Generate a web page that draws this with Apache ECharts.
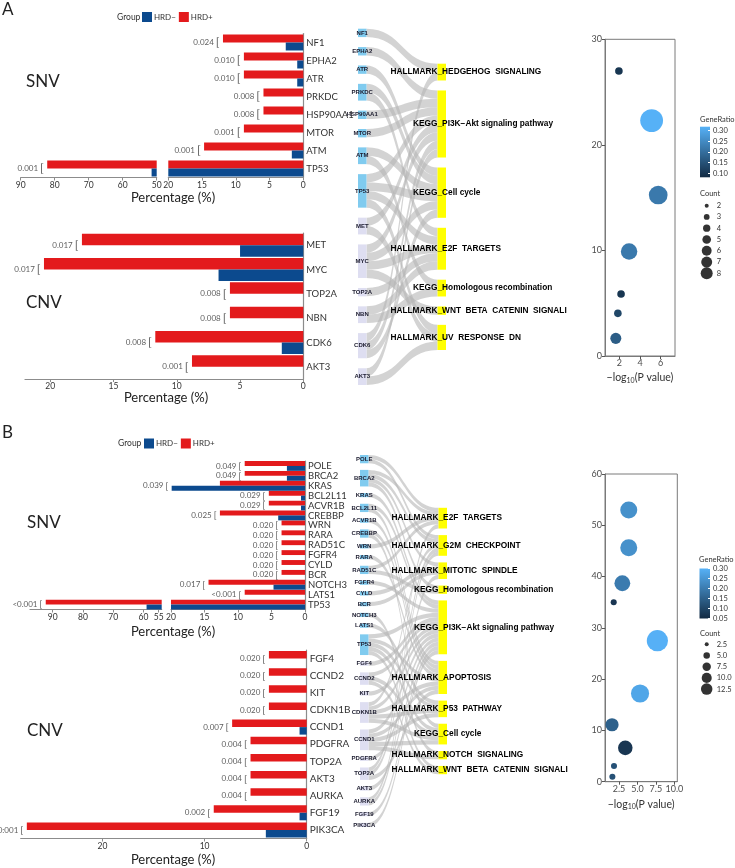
<!DOCTYPE html>
<html><head><meta charset="utf-8">
<script src="https://cdn.jsdelivr.net/npm/echarts@6/dist/echarts.min.js"></script>
<style>html,body{margin:0;padding:0;background:#fff}#c{width:735px;height:868px}</style>
</head><body><div id="c"></div>
<script>
// ================= DATA =================
// Panel A - SNV
const snvGenesA = ['NF1','EPHA2','ATR','PRKDC','HSP90AA1','MTOR','ATM','TP53'];
const snvPosA   = [11.9, 8.8, 8.8, 5.9, 5.9, 8.8, 14.7, 82.2];   // HRD+
const snvNegA   = [2.6, 0.9, 0.9, 0, 0, 0, 1.7, 51.5];           // HRD-
const snvPA     = ['0.024','0.010','0.010','0.008','0.008','0.001','0.001','0.001'];
// Panel A - CNV
const cnvGenesA = ['MET','MYC','TOP2A','NBN','CDK6','AKT3'];
const cnvPosA   = [17.5, 20.5, 5.8, 5.8, 11.7, 8.8];
const cnvNegA   = [5.0, 6.7, 0, 0, 1.7, 0];
const cnvPA     = ['0.017','0.017','0.008','0.008','0.008','0.001'];
// Panel B - SNV
const snvGenesB = ['POLE','BRCA2','KRAS','BCL2L11','ACVR1B','CREBBP','WRN','RARA','RAD51C','FGFR4','CYLD','BCR','NOTCH3','LATS1','TP53'];
const snvPosB   = [9.0, 9.0, 12.7, 5.4, 5.4, 12.7, 3.5, 3.5, 3.5, 3.5, 3.5, 3.5, 14.4, 9.0, 92.3];
const snvNegB   = [2.7, 2.7, 19.9, 0.6, 0.6, 4.0, 0, 0, 0, 0, 0, 0, 4.7, 0, 59.0];
const snvPB     = ['0.049','0.049','0.039','0.029','0.029','0.025','0.020','0.020','0.020','0.020','0.020','0.020','0.017','<0.001','<0.001'];
// Panel B - CNV
const cnvGenesB = ['FGF4','CCND2','KIT','CDKN1B','CCND1','PDGFRA','TOP2A','AKT3','AURKA','FGF19','PIK3CA'];
const cnvPosB   = [3.7, 3.7, 3.7, 3.7, 7.3, 5.5, 5.5, 5.5, 5.5, 9.1, 27.4];
const cnvNegB   = [0, 0, 0, 0, 0.7, 0, 0, 0, 0, 0.7, 4.0];
const cnvPB     = ['0.020','0.020','0.020','0.020','0.007','0.004','0.004','0.004','0.004','0.002','<0:001'];

// axis ticks
const ticksSnvLeftA = [50,60,70,80,90];
const ticksSnvRightA = [0,5,10,15,20];
const ticksCnvA = [0,5,10,15,20];
const ticksSnvLeftB = [55,60,70,80,90];
const ticksSnvRightB = [0,5,10,15,20];
const ticksCnvB = [0,10,20];

// Sankey pathways and gene->pathway links [gene, pathwayIndex, value]
const pathsA = ['HALLMARK_HEDGEHOG  SIGNALING','KEGG_PI3K\u2212Akt signaling pathway','KEGG_Cell cycle','HALLMARK_E2F  TARGETS','KEGG_Homologous recombination','HALLMARK_WNT  BETA  CATENIN  SIGNALING','HALLMARK_UV  RESPONSE  DN'];
const linksA = [
 ['NF1',0,1],['EPHA2',1,1],['ATR',2,1],['PRKDC',2,1],['PRKDC',3,1],['HSP90AA1',1,1],['MTOR',1,1],
 ['ATM',2,1],['ATM',4,1],['TP53',1,1],['TP53',2,1],['TP53',3,1],['TP53',6,1],
 ['MET',1,1],['MET',6,1],['MYC',1,1],['MYC',2,1],['MYC',3,1],['MYC',5,1],
 ['TOP2A',3,1],['NBN',3,1],['NBN',4,1],['CDK6',0,1],['CDK6',1,1],['CDK6',2,1],['AKT3',1,1],['AKT3',6,1]];
const pathsB = ['HALLMARK_E2F  TARGETS','HALLMARK_G2M  CHECKPOINT','HALLMARK_MITOTIC  SPINDLE','KEGG_Homologous recombination','KEGG_PI3K\u2212Akt signaling pathway','HALLMARK_APOPTOSIS','HALLMARK_P53  PATHWAY','KEGG_Cell cycle','HALLMARK_NOTCH  SIGNALING','HALLMARK_WNT  BETA  CATENIN  SIGNALING'];
const linksB = [
 ['POLE',0,1],['POLE',1,1],['BRCA2',0,1],['BRCA2',1,1],['BRCA2',2,1],['BRCA2',3,1],['KRAS',4,1],
 ['BCL2L11',4,1],['BCL2L11',5,1],['ACVR1B',5,1],['CREBBP',5,1],['CREBBP',7,1],['WRN',0,1],['RARA',5,1],
 ['RAD51C',0,1],['RAD51C',3,1],['FGFR4',4,1],['CYLD',2,1],['BCR',2,1],['NOTCH3',8,1],['LATS1',6,1],
 ['TP53',4,1],['TP53',5,1],['TP53',6,1],['TP53',7,1],['TP53',9,1],['FGF4',4,1],
 ['CCND2',4,1],['CCND2',7,1],['CCND2',9,1],['KIT',4,1],
 ['CDKN1B',1,1],['CDKN1B',4,1],['CDKN1B',5,1],['CDKN1B',6,1],['CDKN1B',7,1],
 ['CCND1',4,1],['CCND1',5,1],['CCND1',6,1],['CCND1',7,1],['CCND1',8,1],['PDGFRA',4,1],
 ['TOP2A',0,1],['TOP2A',1,1],['TOP2A',5,1],['AKT3',4,1],['AURKA',1,1],['AURKA',2,1],['FGF19',4,1],['PIK3CA',4,1]];

// Bubble plots: x = -log10(P), y = position, GeneRatio, Count
const bubXA = [1.95, 5.13, 5.77, 2.94, 2.16, 1.85, 1.65];
const bubYA = [27.0, 22.3, 15.25, 9.9, 5.87, 4.04, 1.67];
const bubRatioA = [0.10, 0.32, 0.22, 0.22, 0.10, 0.13, 0.17];
const bubCountA = [2, 8, 6, 5, 2, 2, 3];
const bubXB = [3.82, 3.82, 2.95, 1.78, 7.7, 5.35, 1.55, 3.35, 1.82, 1.6];
const bubYB = [53.0, 45.6, 38.7, 35.0, 27.5, 17.2, 11.1, 6.6, 3.06, 0.97];
const bubRatioB = [0.24, 0.24, 0.20, 0.07, 0.30, 0.28, 0.15, 0.07, 0.12, 0.12];
const bubCountB = [9, 9, 8, 2, 13, 10, 6, 7, 2, 2];
const bubXTicksA = [2,4,6];
const bubXTicksB = [2.5,5,7.5,10];
const ratioTicksA = [0.10,0.15,0.20,0.25,0.30];
const ratioTicksB = [0.05,0.10,0.15,0.20,0.25,0.30];
const countLegA = [2,3,4,5,6,7,8];
const countLegB = [2.5,5,7.5,10,12.5];

// ================= STYLE / LAYOUT =================
const RED = '#e31a1c', BLUE = '#0c4a8e';
const DARK = '#132B43', LIGHT = '#56B1F7';
const FONT = 'Lato, "Open Sans", sans-serif';
const SKFONT = '"Liberation Sans", Arial, sans-serif';
const SNV_NODE = '#80cbef', CNV_NODE = '#dedef1', PATH_NODE = '#ffff00';

const grids = [], xAxes = [], yAxes = [], series = [], graphics = [];
function addGrid(g){ grids.push(Object.assign({containLabel:false}, g)); return grids.length - 1; }

function barPanel(cfg){
  cfg.parts.forEach(part => {
    const gi = addGrid(part.box);
    xAxes.push({gridIndex: gi, type:'value', min: part.min, max: part.max, inverse: true,
      axisLine:{show:true, onZero:false, lineStyle:{color:'#8c8c8c', width:1.2}},
      axisTick:{show:true, length:3, lineStyle:{color:'#8c8c8c'}, customValues: part.ticks},
      axisLabel:{customValues: part.ticks, fontSize: 8.5, color:'#333', fontFamily: FONT, margin: 3},
      splitLine:{show:false}});
    const xi = xAxes.length - 1;
    yAxes.push({gridIndex: gi, type:'category', data: cfg.genes, inverse: true, position:'right', show: part.showY,
      axisLine:{show:true, lineStyle:{color:'#8c8c8c', width:1.2}}, axisTick:{show:false},
      axisLabel:{fontSize: cfg.geneFont, color:'#333', fontFamily: FONT, margin: 3, interval: 0}});
    const yi = yAxes.length - 1;
    series.push({type:'bar', name:'HRD+', xAxisIndex: xi, yAxisIndex: yi, data: cfg.pos, barWidth: cfg.barWidth, barGap:'0%', clip:true, silent:true, itemStyle:{color: RED}});
    series.push({type:'bar', name:'HRD\u2212', xAxisIndex: xi, yAxisIndex: yi, data: cfg.neg, barWidth: cfg.barWidth, barGap:'0%', clip:true, silent:true, itemStyle:{color: BLUE}});
    series.push({type:'scatter', xAxisIndex: xi, yAxisIndex: yi, clip:true, silent:true, symbol:'rect', symbolSize:1,
      itemStyle:{color:'rgba(0,0,0,0)'},
      data: cfg.genes.map((g,i) => ({value:[Math.max(cfg.pos[i], cfg.neg[i]), g], p: cfg.pvals[i]})),
      label:{show:true, position:'left', distance: 3, formatter: p => '{p|' + p.data.p + '}{b|[}',
        rich:{p:{fontSize:8, color:'#333', fontFamily: FONT}, b:{fontSize: cfg.bracket, color:'#333', fontFamily: FONT, padding:[0,0,0,2]}}}});
  });
}

barPanel({genes: snvGenesA, pos: snvPosA, neg: snvNegA, pvals: snvPA, barWidth: 8, geneFont: 9.5, bracket: 12,
  parts:[{box:{left:20.7, top:33.5, width:136, height:144}, min:50, max:90, ticks: ticksSnvLeftA, showY:false},
         {box:{left:168.3, top:33.5, width:135, height:144}, min:0, max:20, ticks: ticksSnvRightA, showY:true}]});
barPanel({genes: cnvGenesA, pos: cnvPosA, neg: cnvNegA, pvals: cnvPA, barWidth: 11.5, geneFont: 9.5, bracket: 12,
  parts:[{box:{left:25, top:233, width:278.3, height:146}, min:0, max:22, ticks: ticksCnvA, showY:true}]});
barPanel({genes: snvGenesB, pos: snvPosB, neg: snvNegB, pvals: snvPB, barWidth: 4.9, geneFont: 9.5, bracket: 9,
  parts:[{box:{left:30, top:461, width:131.7, height:148.5}, min:54, max:97.5, ticks: ticksSnvLeftB, showY:false},
         {box:{left:171, top:461, width:134, height:148.5}, min:0, max:20, ticks: ticksSnvRightB, showY:true}]});
barPanel({genes: cnvGenesB, pos: cnvPosB, neg: cnvNegB, pvals: cnvPB, barWidth: 7.5, geneFont: 10, bracket: 10,
  parts:[{box:{left:20.7, top:650, width:286, height:188.5}, min:0, max:28, ticks: ticksCnvB, showY:true}]});

// ---------- Sankey ----------
const mctx = document.createElement('canvas').getContext('2d');
function measure(t, size){ mctx.font = 'bold ' + size + 'px "Liberation Sans", Arial, sans-serif'; return mctx.measureText(t).width; }
const CUT_X = 570;
function buildSankey(cfg){
  const H = cfg.height, gap = cfg.gap;
  const rightVal = cfg.paths.map(() => 0);
  cfg.links.forEach(l => { rightVal[l[1]] += l[2]; });
  const sum = rightVal.reduce((a,b) => a + b, 0);
  const ky = Math.min((H - (cfg.genes.length - 1) * gap) / sum, (H - (cfg.paths.length - 1) * gap) / sum);
  const colH = sum * ky + (cfg.paths.length - 1) * gap;
  let y = (H - colH) / 2;
  const nodeX = cfg.left + cfg.width - cfg.nodeWidth;
  const LS = 8.3;
  const nodes = cfg.genes.map((g,i) => ({name: g, itemStyle:{color: i < cfg.nSnv ? SNV_NODE : CNV_NODE}}));
  cfg.paths.forEach((p,i) => {
    const pw = measure(p.split('_')[0], LS);
    nodes.push({name: p, localY: y / H, itemStyle:{color: PATH_NODE},
      label:{position:[0,'50%'], align:'left', verticalAlign:'middle', offset:[-pw, 0], fontSize: LS, fontWeight:'bold',
        color:'#000', fontFamily: SKFONT, width: CUT_X - (nodeX - pw), overflow:'truncate', ellipsis:''}});
    y += rightVal[i] * ky + gap;
  });
  return {type:'sankey', left: cfg.left, top: cfg.top, width: cfg.width, height: H, nodeWidth: cfg.nodeWidth, nodeGap: gap,
    layoutIterations: 0, draggable: false, silent: true, emphasis:{disabled:true},
    data: nodes, links: cfg.links.map(l => ({source: l[0], target: cfg.paths[l[1]], value: l[2]})),
    itemStyle:{borderWidth:0}, lineStyle:{color:'#b5b5b5', opacity:0.6, curveness:0.5},
    label:{position:'inside', fontSize:6, fontWeight:'bold', color:'#1b1b2e', fontFamily: SKFONT}};
}
series.push(buildSankey({genes: snvGenesA.concat(cnvGenesA), nSnv: snvGenesA.length, paths: pathsA, links: linksA,
  left: 358, top: 28.7, width: 88, height: 356.3, nodeWidth: 8.5, gap: 10}));
series.push(buildSankey({genes: snvGenesB.concat(cnvGenesB), nSnv: snvGenesB.length, paths: pathsB, links: linksB,
  left: 360, top: 455, width: 87, height: 372, nodeWidth: 8.5, gap: 6.6}));

// ---------- Bubble plots ----------
function sizeFn(c, cmin, cmax, dmin, dmax){ return dmin + (dmax - dmin) * (Math.sqrt(c) - Math.sqrt(cmin)) / (Math.sqrt(cmax) - Math.sqrt(cmin)); }
const sizeLegA = c => sizeFn(c, 2, 8, 4, 12);
const sizeLegB = c => sizeFn(c, 2.5, 12.5, 4, 11.5);
const visualMaps = [];
function bubblePanel(cfg){
  const gi = addGrid(Object.assign({show:true, borderColor:'#7a7a7a', borderWidth:1, backgroundColor:'transparent'}, cfg.box));
  xAxes.push({gridIndex: gi, type:'value', min: cfg.xmin, max: cfg.xmax,
    axisLine:{show:true, onZero:false, lineStyle:{color:'#7a7a7a'}},
    axisTick:{show:true, length:3, customValues: cfg.xticks, lineStyle:{color:'#555'}},
    axisLabel:{customValues: cfg.xticks, formatter: cfg.xfmt, fontSize:9, color:'#4d4d4d', margin:3},
    splitLine:{show:false},
    name:'\u2212log{s|10}(P value)', nameLocation:'middle', nameGap: cfg.nameGap,
    nameTextStyle:{fontSize:10.5, color:'#333', fontFamily: FONT, rich:{s:{fontSize:7, fontFamily: FONT, color:'#333', padding:[6,0,0,0]}}}});
  yAxes.push({gridIndex: gi, type:'value', min: cfg.ymin, max: cfg.ymax, interval: cfg.yint,
    axisLine:{show:true, onZero:false, lineStyle:{color:'#7a7a7a'}},
    axisTick:{show:true, length:3, lineStyle:{color:'#555'}},
    axisLabel:{fontSize:9, color:'#4d4d4d', margin:3}, splitLine:{show:false}});
  series.push({type:'scatter', xAxisIndex: xAxes.length - 1, yAxisIndex: yAxes.length - 1, silent:true,
    data: cfg.x.map((v,i) => [v, cfg.y[i], cfg.ratio[i], cfg.count[i]]),
    symbolSize: v => cfg.plotSize(v[3]), itemStyle:{opacity:1}});
  visualMaps.push({type:'continuous', show:false, seriesIndex: series.length - 1, dimension: 2,
    min: cfg.rmin, max: cfg.rmax, inRange:{color:[DARK, LIGHT]}});
  // colour bar
  const cg = addGrid(cfg.cbBox);
  xAxes.push({gridIndex: cg, type:'category', data:['r'], show:false});
  yAxes.push({gridIndex: cg, type:'value', min: cfg.rmin, max: cfg.rmax, position:'right', z:3,
    axisLine:{show:false}, axisTick:{show:true, inside:true, length:2, lineStyle:{color:'#fff'}, customValues: cfg.rticks},
    axisLabel:{customValues: cfg.rticks, formatter: v => v.toFixed(2), fontSize:7.5, color:'#333', margin:3},
    splitLine:{show:false}});
  series.push({type:'bar', xAxisIndex: xAxes.length - 1, yAxisIndex: yAxes.length - 1, data:[cfg.rmax], barWidth:'100%', clip:true, silent:true,
    itemStyle:{color:{type:'linear', x:0, y:0, x2:0, y2:1, colorStops:[{offset:0, color:LIGHT},{offset:1, color:DARK}]}}});
  // count legend
  const lg = addGrid(cfg.lgBox);
  xAxes.push({gridIndex: lg, type:'value', min:-1, max:1, show:false});
  yAxes.push({gridIndex: lg, type:'category', data: cfg.legLabels, inverse:true, position:'right',
    axisLine:{show:false}, axisTick:{show:false}, axisLabel:{fontSize:7.5, color:'#333', margin:5, interval:0}});
  series.push({type:'scatter', xAxisIndex: xAxes.length - 1, yAxisIndex: yAxes.length - 1, silent:true,
    data: cfg.legCounts.map((c,i) => [0, cfg.legLabels[i], c]), symbolSize: v => cfg.legSize(v[2]), itemStyle:{color:'#000'}});
}
bubblePanel({box:{left:605, top:39.3, width:70, height:316.7}, xmin:0.6, xmax:7.4, xticks: bubXTicksA, xfmt: v => String(v),
  ymin:0, ymax:30, yint:10, nameGap:15, x: bubXA, y: bubYA, ratio: bubRatioA, count: bubCountA,
  plotSize: c => 1.9 * sizeLegA(c), rmin:0.081, rmax:0.319, rticks: ratioTicksA,
  cbBox:{left:700, top:126.7, width:10, height:50.6},
  lgBox:{left:701.7, top:200, width:10, height:79}, legCounts: countLegA, legLabels: countLegA.map(String), legSize: sizeLegA});
bubblePanel({box:{left:605, top:474, width:72.3, height:307.7}, xmin:0.6, xmax:10.4, xticks: bubXTicksB, xfmt: v => v.toFixed(1),
  ymin:0, ymax:60, yint:10, nameGap:16, x: bubXB, y: bubYB, ratio: bubRatioB, count: bubCountB,
  plotSize: c => 1.8 * sizeLegB(c), rmin:0.049, rmax:0.301, rticks: ratioTicksB,
  cbBox:{left:699.5, top:568.5, width:10.5, height:50},
  lgBox:{left:701.7, top:638.7, width:10, height:56}, legCounts: countLegB, legLabels: countLegB.map(c => c.toFixed(1)), legSize: sizeLegB});

// ---------- texts ----------
function txt(x, y, text, size, align, color){
  graphics.push({type:'text', x: x, y: y, silent:true,
    style:{text: text, fill: color || '#222', fontSize: size, fontFamily: FONT,
      align: align || 'left', textAlign: align || 'left', verticalAlign:'middle', textVerticalAlign:'middle'}});
}
txt(2, 10, 'A', 17); txt(2, 433, 'B', 17);
txt(117, 17, 'Group', 8.5, 'left', '#333'); txt(118, 443.5, 'Group', 8.5, 'left', '#333');
txt(26, 82, 'SNV', 17); txt(26, 303, 'CNV', 17); txt(27, 523, 'SNV', 17); txt(27, 731, 'CNV', 17);
txt(173, 198, 'Percentage (%)', 13, 'center'); txt(166, 398, 'Percentage (%)', 13, 'center');
txt(173, 632, 'Percentage (%)', 13, 'center'); txt(173, 860, 'Percentage (%)', 13, 'center');
txt(700, 120, 'GeneRatio', 7.5, 'left', '#333'); txt(700, 194, 'Count', 7.5, 'left', '#333');
txt(699, 559.5, 'GeneRatio', 7.5, 'left', '#333'); txt(700, 633.5, 'Count', 7.5, 'left', '#333');

const legendBase = {data:['HRD\u2212','HRD+'], icon:'rect', itemWidth:10, itemHeight:10, itemGap:3, selectedMode:false, padding:0,
  textStyle:{fontSize:8, color:'#333', fontFamily: FONT, padding:[0,0,0,-3]}};

const chart = echarts.init(document.getElementById('c'), null, {renderer:'canvas', width:735, height:868});
chart.setOption({
  animation:false,
  textStyle:{fontFamily: FONT},
  legend:[Object.assign({left:142, top:12}, legendBase), Object.assign({left:144, top:438.5}, legendBase)],
  grid: grids, xAxis: xAxes, yAxis: yAxes, visualMap: visualMaps, series: series, graphic: graphics
});
</script></body></html>
